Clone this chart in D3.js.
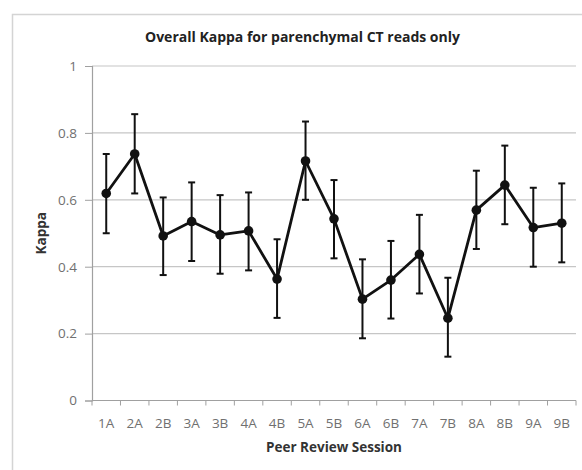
<!DOCTYPE html>
<html><head><meta charset="utf-8">
<script src="https://cdn.jsdelivr.net/npm/d3@7"></script>
<style>body{margin:0;background:#fff}svg{display:block}</style>
</head><body>
<svg id="c" width="582" height="470"></svg>
<script>
const categories = ["1A","2A","2B","3A","3B","4A","4B","5A","5B","6A","6B","7A","7B","8A","8B","9A","9B"];
const kappa = [0.619,0.737,0.492,0.535,0.495,0.507,0.363,0.716,0.543,0.303,0.360,0.437,0.246,0.569,0.644,0.517,0.530];
const upper = [0.737,0.856,0.607,0.652,0.614,0.622,0.482,0.834,0.659,0.422,0.477,0.555,0.367,0.687,0.762,0.636,0.649];
const lower = [0.500,0.619,0.375,0.417,0.379,0.389,0.247,0.600,0.425,0.186,0.245,0.320,0.131,0.453,0.527,0.400,0.413];
const yTicks = [0,0.2,0.4,0.6,0.8,1];
const title = "Overall Kappa for parenchymal CT reads only";
const xTitle = "Peer Review Session";
const yTitle = "Kappa";

const svg = d3.select("#c");
const L = 92, R = 576, T = 66, B = 400.5;
const font = "'Open Sans', 'Liberation Sans', sans-serif";

svg.append("rect").attr("x",12.5).attr("y",14.5).attr("width",600).attr("height",500)
  .attr("fill","#fff").attr("stroke","#d4d4d4").attr("stroke-width",1.5);

const x = d3.scaleBand().domain(categories).range([L,R]);
const y = d3.scaleLinear().domain([0,1]).range([B,T]);

// gridlines
svg.append("g").selectAll("line").data(yTicks.filter(d=>d>0)).join("line")
  .attr("x1",L).attr("x2",R).attr("y1",d=>y(d)).attr("y2",d=>y(d))
  .attr("stroke","#c6c6c6").attr("stroke-width",1.2);

// y axis
const ya = svg.append("g").attr("transform",`translate(${L},0)`)
  .call(d3.axisLeft(y).tickValues(yTicks).tickFormat(d=>d===0?"0":d===1?"1":d3.format(".1f")(d)).tickSize(7).tickPadding(8));
ya.select(".domain").attr("stroke","#a0a0a0").attr("stroke-width",1.2);
ya.selectAll(".tick line").attr("stroke","#a0a0a0");
ya.selectAll("text").attr("fill","#707070").style("font-family",font).style("font-size","13.5px");

// x axis with ticks between categories
const xa = svg.append("g").attr("transform",`translate(0,${B})`);
xa.append("line").attr("x1",L).attr("x2",R).attr("stroke","#a0a0a0").attr("stroke-width",1.2);
const bounds = categories.map(c=>x(c)).concat([R]);
xa.selectAll("line.tk").data(bounds).join("line").attr("class","tk")
  .attr("x1",d=>d).attr("x2",d=>d).attr("y1",0).attr("y2",5).attr("stroke","#a0a0a0");
xa.selectAll("text").data(categories).join("text")
  .attr("x",d=>x(d)+x.bandwidth()/2).attr("y",27).attr("text-anchor","middle")
  .attr("fill","#707070").style("font-family",font).style("font-size","13.5px").text(d=>d);

// error bars
const cx = i => x(categories[i]) + x.bandwidth()/2;
const eb = svg.append("g").attr("stroke","#111").attr("stroke-width",2);
categories.forEach((c,i)=>{
  eb.append("line").attr("x1",cx(i)).attr("x2",cx(i)).attr("y1",y(upper[i])).attr("y2",y(lower[i]));
  eb.append("line").attr("x1",cx(i)-3.5).attr("x2",cx(i)+3.5).attr("y1",y(upper[i])).attr("y2",y(upper[i]));
  eb.append("line").attr("x1",cx(i)-3.5).attr("x2",cx(i)+3.5).attr("y1",y(lower[i])).attr("y2",y(lower[i]));
});

// line
svg.append("path").datum(kappa)
  .attr("d",d3.line().x((d,i)=>cx(i)).y(d=>y(d)))
  .attr("fill","none").attr("stroke","#111").attr("stroke-width",2.8).attr("stroke-linejoin","round");

svg.append("g").selectAll("circle").data(kappa).join("circle")
  .attr("cx",(d,i)=>cx(i)).attr("cy",d=>y(d)).attr("r",4.8).attr("fill","#111");

// titles
svg.append("text").attr("x",302.5).attr("y",42).attr("text-anchor","middle")
  .style("font-family",font).style("font-weight","bold").style("font-size","14px").attr("fill","#222")
  .text(title);
svg.append("text").attr("x",(L+R)/2).attr("y",452).attr("text-anchor","middle")
  .style("font-family",font).style("font-weight","bold").style("font-size","13.5px").attr("fill","#333")
  .text(xTitle);
svg.append("text").attr("transform",`translate(46,${(T+B)/2}) rotate(-90)`).attr("text-anchor","middle")
  .style("font-family",font).style("font-weight","bold").style("font-size","13.5px").attr("fill","#333")
  .text(yTitle);
</script>
</body></html>
